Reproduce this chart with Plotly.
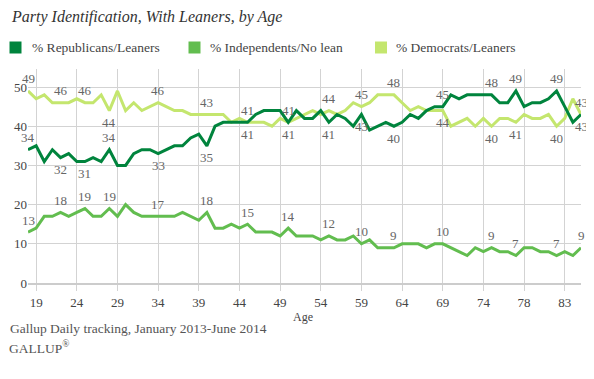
import plotly.graph_objects as go

# ---- data ----
republicans = [34, 35, 31, 34, 32, 33, 31, 31, 32, 31, 34, 30, 30, 33, 34, 34, 33, 34, 35, 35,
               37, 38, 35, 40, 41, 41, 41, 41, 43, 44, 44, 44, 41, 44, 42, 42, 44, 41, 43, 42,
               40, 43, 39, 40, 41, 40, 41, 43, 42, 44, 45, 45, 48, 47, 48, 48, 48, 48, 46, 46,
               49, 45, 46, 46, 47, 49, 45, 41, 43]
independents = [13, 14, 17, 17, 18, 17, 18, 19, 17, 17, 19, 17, 20, 18, 17, 17, 17, 17, 17, 18,
                17, 16, 18, 14, 14, 15, 14, 15, 13, 13, 13, 12, 14, 12, 12, 12, 11, 12, 11, 11,
                12, 10, 11, 9, 9, 9, 10, 10, 10, 9, 10, 10, 9, 8, 7, 9, 8, 9, 8, 8,
                7, 9, 9, 8, 8, 7, 8, 7, 9]
democrats = [49, 47, 48, 46, 46, 46, 47, 46, 46, 48, 44, 49, 44, 46, 44, 45, 46, 45, 44, 44,
             43, 43, 43, 43, 43, 41, 42, 41, 41, 41, 40, 42, 41, 42, 43, 44, 43, 44, 43, 44,
             46, 45, 46, 48, 48, 48, 46, 44, 45, 44, 44, 44, 40, 41, 42, 40, 42, 40, 42, 42,
             41, 43, 42, 42, 43, 40, 42, 47, 43]

tick_labels = ["19", "24", "29", "34", "39", "44", "49", "54", "59", "64", "69", "74", "78", "83"]
tick_index = [1, 6, 11, 16, 21, 26, 31, 36, 41, 46, 51, 56, 61, 66]

series_names = ["% Republicans/Leaners", "% Independents/No lean", "% Democrats/Leaners"]

# points that carry a value label, and on which side of the line it sits
label_index = [0, 4, 7, 10, 16, 22, 27, 32, 37, 41, 45, 51, 57, 60, 65, 68]
rep_side = ["up", "down", "down", "up", "down", "down", "up", "up", "down", "down", "down",
            "up", "up", "up", "up", "down"]
dem_side = ["up", "up", "up", "down", "up", "up", "down", "down", "up", "up", "up",
            "down", "down", "down", "down", "up"]
ind_side = ["up"] * len(label_index)

# ---- style ----
colors = ["#00843D", "#62BD4F", "#C4E66E"]
SERIF = "Liberation Serif"
W, H = 594, 379
OFF = 8  # page body margin that offsets the figure inside the window
ML, MR, MT, MB = 20, 21, 61, 104
PW, PH = W - ML - MR, H - MT - MB

def px(x):
    """window pixel x -> paper coordinate"""
    return (x - OFF - ML) / PW

def py(y):
    """window pixel y -> paper coordinate"""
    return (H - MB - (y - OFF)) / PH

x_pos = list(range(len(republicans)))

fig = go.Figure()
for vals, name, col in zip([democrats, independents, republicans],
                           [series_names[2], series_names[1], series_names[0]],
                           [colors[2], colors[1], colors[0]]):
    fig.add_trace(go.Scatter(x=x_pos, y=vals, mode="lines", name=name,
                             line=dict(color=col, width=3), showlegend=False,
                             hoverinfo="skip"))

annotations = []
for vals, sides in [(republicans, rep_side), (democrats, dem_side), (independents, ind_side)]:
    for idx, side in zip(label_index, sides):
        annotations.append(dict(x=idx, y=vals[idx], xref="x", yref="y", text=str(vals[idx]),
                                showarrow=False, yshift=12 if side == "up" else -12,
                                font=dict(family=SERIF, size=13, color="#666666")))

# title
annotations.append(dict(x=px(9), y=py(17), xref="paper", yref="paper", xanchor="left",
                        yanchor="middle", showarrow=False,
                        text="<i>Party Identification, With Leaners, by Age</i>",
                        font=dict(family=SERIF, size=16, color="#333333")))
# legend
shapes = []
legend_sq_x = [9.5, 188.5, 375]
legend_tx_x = [29.5, 207.5, 394]
for name, col, sx, tx in zip(series_names, colors, legend_sq_x, legend_tx_x):
    shapes.append(dict(type="rect", xref="paper", yref="paper", x0=px(sx), x1=px(sx + 12),
                       y0=py(41.5), y1=py(53.5), fillcolor=col, line=dict(width=0)))
    annotations.append(dict(x=px(tx), y=py(47.5), xref="paper", yref="paper", xanchor="left",
                            yanchor="middle", showarrow=False, text=name,
                            font=dict(family=SERIF, size=13.5, color="#444444")))
# axis title and footer
annotations.append(dict(x=px(303), y=py(317), xref="paper", yref="paper", xanchor="center",
                        yanchor="middle", showarrow=False, text="Age",
                        font=dict(family=SERIF, size=12, color="#444444")))
annotations.append(dict(x=px(8), y=py(328), xref="paper", yref="paper", xanchor="left",
                        yanchor="middle", showarrow=False,
                        text="Gallup Daily tracking, January 2013-June 2014",
                        font=dict(family=SERIF, size=13.5, color="#555555")))
annotations.append(dict(x=px(7), y=py(347), xref="paper", yref="paper", xanchor="left",
                        yanchor="middle", showarrow=False,
                        text="GALLUP<sup>®</sup>",
                        font=dict(family=SERIF, size=13.5, color="#555555")))

fig.update_layout(
    width=W, height=H,
    margin=dict(l=ML, r=MR, t=MT, b=MB, pad=0),
    paper_bgcolor="white", plot_bgcolor="white",
    showlegend=False,
    annotations=annotations,
    shapes=shapes,
    xaxis=dict(range=[0, 68], tickmode="array", tickvals=tick_index, ticktext=tick_labels,
               showgrid=True, gridcolor="#d3d3d3", gridwidth=1, automargin=False,
               ticks="outside", ticklen=6, tickcolor="#d3d3d3", tickwidth=1,
               showline=True, linecolor="#cccccc", linewidth=2,
               zeroline=False, fixedrange=True,
               tickfont=dict(family=SERIF, size=13, color="#444444")),
    yaxis=dict(range=[0, 54.6], tickvals=[0, 10, 20, 30, 40, 50], automargin=False,
               showgrid=True, gridcolor="#d3d3d3", gridwidth=1,
               zeroline=False, showline=False, ticks="", fixedrange=True,
               tickfont=dict(family=SERIF, size=13, color="#444444")),
)

fig.write_html("out.html")
